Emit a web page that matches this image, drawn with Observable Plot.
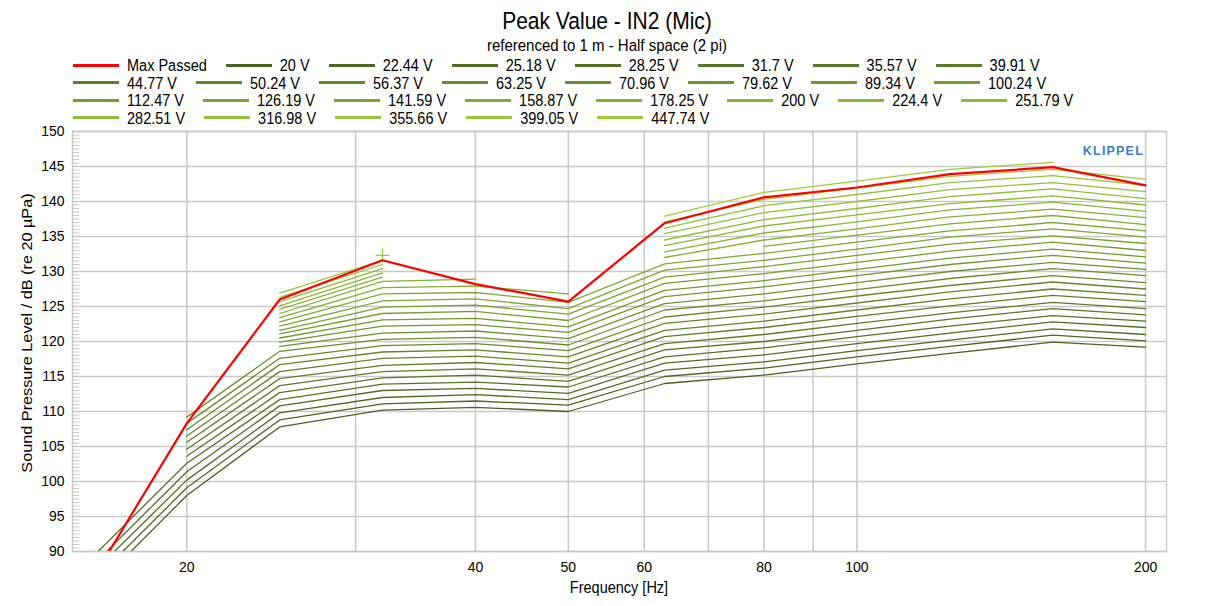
<!DOCTYPE html>
<html>
<head>
<meta charset="utf-8">
<script src="https://cdn.jsdelivr.net/npm/d3@7"></script>
<script src="https://cdn.jsdelivr.net/npm/@observablehq/plot@0.6"></script>
<style>
  html, body { margin: 0; padding: 0; background: #fff; }
  #wrap { position: relative; width: 1214px; height: 606px; overflow: hidden; font-family: "Liberation Sans", Arial, sans-serif; color: #000; background: #fff; }
  .abs { position: absolute; white-space: nowrap; z-index: 2; }
  #title { left: 0; width: 1214px; top: 8px; text-align: center; font-size: 21px; line-height: 26px; transform: scaleY(1.12); }
  #subtitle { left: 0; width: 1214px; top: 36px; text-align: center; font-size: 15px; line-height: 17px; transform: scaleY(1.1); }
  #legend { position: absolute; left: 0; top: 0; z-index: 2; }
  .lrow { position: absolute; left: 73px; height: 18px; display: flex; align-items: center; font-size: 14.5px; white-space: nowrap; }
  .item { display: flex; align-items: center; margin-right: 19px; }
  .sw { width: 46px; height: 3px; margin-right: 8px; }
  .lab { display: inline-block; transform: scaleY(1.12); line-height: 18px; }
  #xlabel { left: 519px; width: 200px; top: 578px; text-align: center; font-size: 14.5px; line-height: 18px; transform: scaleY(1.12); }
  #ylabel { left: 27px; top: 333px; font-size: 14.5px; line-height: 16px; transform: translate(-50%, -50%) rotate(-90deg) scale(1.12, 1); }
  #klippel { left: 1060px; width: 84px; top: 144px; text-align: right; font-size: 12.5px; font-weight: bold; letter-spacing: 1.2px; color: #3a7fc1; }
  #chart { position: absolute; left: 0; top: 122px; z-index: 1; }
</style>
</head>
<body>
<div id="wrap">
  <div id="chart"></div>
  <div id="title" class="abs">Peak Value - IN2 (Mic)</div>
  <div id="subtitle" class="abs">referenced to 1 m - Half space (2 pi)</div>
  <div id="legend"></div>
  <div id="klippel" class="abs">KLIPPEL</div>
  <div id="xlabel" class="abs">Frequency [Hz]</div>
  <div id="ylabel" class="abs">Sound Pressure Level / dB (re 20 µPa)</div>
</div>
<script>
// ---------------- DATA ----------------
const frequencies = [16, 20, 25, 32, 40, 50, 63, 80, 100, 125, 160, 200];

const voltageLabels = ["20 V", "22.44 V", "25.18 V", "28.25 V", "31.7 V", "35.57 V", "39.91 V",
  "44.77 V", "50.24 V", "56.37 V", "63.25 V", "70.96 V", "79.62 V", "89.34 V", "100.24 V",
  "112.47 V", "126.19 V", "141.59 V", "158.87 V", "178.25 V", "200 V", "224.4 V", "251.79 V",
  "282.51 V", "316.98 V", "355.66 V", "399.05 V", "447.74 V"];

const maxPassed = [86.4, 108.3, 126.0, 131.6, 128.2, 125.7, 136.9, 140.6, 142.0, 143.9, 144.9, 142.3];

//                 16     20     25     32     40     50     63     80     100    125    160    200
const spl_20V    = [84.7,  98.0, 107.8, 110.2, 110.6, 110.0, 114.0, 115.2, 116.8, 118.3, 119.9, 119.2];
const spl_22_44V = [85.9,  99.1, 108.8, 111.1, 111.5, 110.9, 115.0, 116.2, 117.8, 119.3, 120.9, 120.1];
const spl_25_18V = [87.1, 100.2, 109.8, 112.0, 112.4, 111.7, 115.9, 117.1, 118.7, 120.2, 121.8, 121.0];
const spl_28_25V = [88.2, 101.4, 110.8, 113.0, 113.3, 112.6, 116.9, 118.1, 119.7, 121.2, 122.8, 122.0];
const spl_31_7V  = [89.4, 102.6, 111.7, 113.9, 114.2, 113.5, 117.8, 119.1, 120.7, 122.2, 123.7, 122.9];
const spl_35_57V = [null, 103.6, 112.7, 114.8, 115.2, 114.3, 118.8, 120.0, 121.6, 123.2, 124.7, 123.8];
const spl_39_91V = [null, 104.6, 113.7, 115.7, 116.1, 115.2, 119.7, 121.0, 122.6, 124.1, 125.6, 124.7];
const spl_44_77V = [null, 105.6, 114.7, 116.6, 117.0, 116.1, 120.7, 122.0, 123.6, 125.1, 126.6, 125.7];
const spl_50_24V = [null, 106.5, 115.7, 117.6, 117.9, 116.9, 121.6, 122.9, 124.5, 126.1, 127.5, 126.6];
const spl_56_37V = [null, 107.4, 116.7, 118.5, 118.8, 117.8, 122.6, 123.9, 125.5, 127.1, 128.5, 127.5];
const spl_63_25V = [null, 108.3, 117.6, 119.4, 119.7, 118.7, 123.5, 124.9, 126.5, 128.0, 129.4, 128.4];
const spl_70_96V = [null, 109.2, 118.6, 120.3, 120.6, 119.5, 124.5, 125.8, 127.4, 129.0, 130.4, 129.4];
const spl_79_62V = [null, null, 119.3, 121.2, 121.5, 120.4, 125.4, 126.8, 128.4, 130.0, 131.3, 130.3];
const spl_89_34V = [null, null, 119.9, 122.2, 122.4, 121.3, 126.4, 127.8, 129.4, 131.0, 132.3, 131.2];
const spl_100_24V = [null, null, 120.5, 123.1, 123.3, 122.1, 127.3, 128.7, 130.3, 131.9, 133.2, 132.1];
const spl_112_47V = [null, null, 121.1, 124.0, 124.3, 123.0, 128.3, 129.7, 131.3, 132.9, 134.2, 133.0];
const spl_126_19V = [null, null, 121.6, 124.9, 125.2, 123.9, 129.2, 130.7, 132.3, 133.9, 135.1, 134.0];
const spl_141_59V = [null, null, 122.2, 125.8, 126.1, 124.7, 130.2, 131.6, 133.2, 134.9, 136.1, 134.9];
const spl_158_87V = [null, null, 122.8, 126.8, 127.0, 125.6, 131.1, 132.6, 134.2, 135.8, 137.0, 135.8];
const spl_178_25V = [null, null, 123.4, 127.7, 127.9, 126.8, null,  133.6, 135.2, 136.8, 138.0, 136.7];
const spl_200V    = [null, null, 124.0, 128.6, 128.9, null,  132.0, 134.5, 136.1, 137.8, 138.9, 137.7];
const spl_224_4V  = [null, null, 124.6, 129.2, null,  null,  132.8, 135.5, 137.1, 138.8, 139.9, 138.6];
const spl_251_79V = [null, null, 125.1, 129.8, null,  null,  133.7, 136.5, 138.1, 139.7, 140.8, 139.5];
const spl_282_51V = [null, null, 125.7, 130.4, null,  null,  134.5, 137.4, 139.0, 140.7, 141.8, 140.4];
const spl_316_98V = [null, null, 126.3, 131.0, null,  null,  135.4, 138.4, 140.0, 141.7, 142.7, 141.4];
const spl_355_66V = [null, null, 126.9, 131.6, null,  null,  136.2, 139.4, 141.0, 142.7, 143.7, 142.3];
const spl_399_05V = [null, null, null,  132.3, null,  null,  137.1, 140.3, 141.9, 143.6, 144.6, 143.2];
const spl_447_74V = [null, null, null,  null,  null,  null,  137.9, 141.3, 142.9, 144.6, 145.6, null];

const seriesValues = [spl_20V, spl_22_44V, spl_25_18V, spl_28_25V, spl_31_7V, spl_35_57V, spl_39_91V,
  spl_44_77V, spl_50_24V, spl_56_37V, spl_63_25V, spl_70_96V, spl_79_62V, spl_89_34V, spl_100_24V,
  spl_112_47V, spl_126_19V, spl_141_59V, spl_158_87V, spl_178_25V, spl_200V, spl_224_4V, spl_251_79V,
  spl_282_51V, spl_316_98V, spl_355_66V, spl_399_05V, spl_447_74V];

const xTickValues = [20, 40, 50, 60, 80, 100, 200];
const xGridValues = [20, 30, 40, 50, 60, 70, 80, 90, 100, 200];
const yTickValues = [90, 95, 100, 105, 110, 115, 120, 125, 130, 135, 140, 145, 150];

// ---------------- STYLE ----------------
const colorOf = d3.interpolateRgb("#4b6322", "#9ecd3c");
const seriesColors = voltageLabels.map((_, i) => colorOf(i / (voltageLabels.length - 1)));
const gridColor = "#c9c9c9";
const xDomain = [15.2, 210.3];

// ---------------- LEGEND ----------------
const legendRows = [
  ["Max Passed", ...voltageLabels.slice(0, 7)],
  voltageLabels.slice(7, 15),
  voltageLabels.slice(15, 23),
  voltageLabels.slice(23)
];
const rowCenters = [65, 82.5, 100, 117.5];
const legend = document.getElementById("legend");
legendRows.forEach((row, r) => {
  const div = document.createElement("div");
  div.className = "lrow";
  div.style.top = (rowCenters[r] - 9) + "px";
  row.forEach(name => {
    const it = document.createElement("div");
    it.className = "item";
    const sw = document.createElement("div");
    sw.className = "sw";
    const vi = voltageLabels.indexOf(name);
    sw.style.background = vi < 0 ? "#ff0000" : seriesColors[vi];
    const lab = document.createElement("span");
    lab.className = "lab";
    lab.textContent = name;
    it.appendChild(sw);
    it.appendChild(lab);
    div.appendChild(it);
  });
  legend.appendChild(div);
});

// ---------------- CHART ----------------
const rows = [];
seriesValues.forEach((vals, i) => {
  vals.forEach((v, j) => rows.push({series: voltageLabels[i], idx: i, f: frequencies[j], v: v}));
});
const isolated = [];
seriesValues.forEach((vals, i) => {
  vals.forEach((v, j) => {
    if (v != null && (j === 0 || vals[j - 1] == null) && (j === vals.length - 1 || vals[j + 1] == null))
      isolated.push({series: voltageLabels[i], idx: i, f: frequencies[j], v: v});
  });
});
const redRows = frequencies.map((f, j) => ({f, v: maxPassed[j]}));
const yMinor = d3.range(90, 150, 0.5).filter(v => v % 5 !== 0);

const marks = [
  Plot.ruleY(yTickValues, {stroke: gridColor, strokeWidth: 1.5}),
  Plot.ruleX(xGridValues, {stroke: gridColor, strokeWidth: 1.5}),
  Plot.ruleY(yMinor, {x1: xDomain[0], x2: xDomain[0] * 1.018, stroke: gridColor, strokeWidth: 1}),
  Plot.frame({stroke: gridColor, strokeWidth: 1.5}),
  Plot.axisX(xTickValues, {tickSize: 0, tickPadding: 11, tickFormat: d => String(d), label: null, fontSize: 14}),
  Plot.axisY(yTickValues, {tickSize: 0, tickPadding: 8, label: null, fontSize: 14})
];
seriesValues.forEach((vals, i) => {
  marks.push(Plot.line(rows.filter(d => d.idx === i), {
    x: "f", y: "v", stroke: seriesColors[i], strokeWidth: 1.3, clip: true
  }));
});
marks.push(Plot.dot(isolated, {x: "f", y: "v", symbol: "plus", r: 4.5, stroke: d => seriesColors[d.idx], strokeWidth: 1.3}));
marks.push(Plot.line(redRows, {x: "f", y: "v", stroke: "#ff0000", strokeWidth: 2.2, clip: true}));

const chart = Plot.plot({
  width: 1214,
  height: 484,
  marginLeft: 72,
  marginRight: 48,
  marginTop: 9,
  marginBottom: 55,
  x: {type: "log", domain: xDomain},
  y: {domain: [90, 150]},
  style: {fontFamily: "'Liberation Sans', Arial, sans-serif", fontSize: "14px", color: "#000", background: "transparent", overflow: "visible"},
  marks
});
document.getElementById("chart").appendChild(chart);
</script>
</body>
</html>
